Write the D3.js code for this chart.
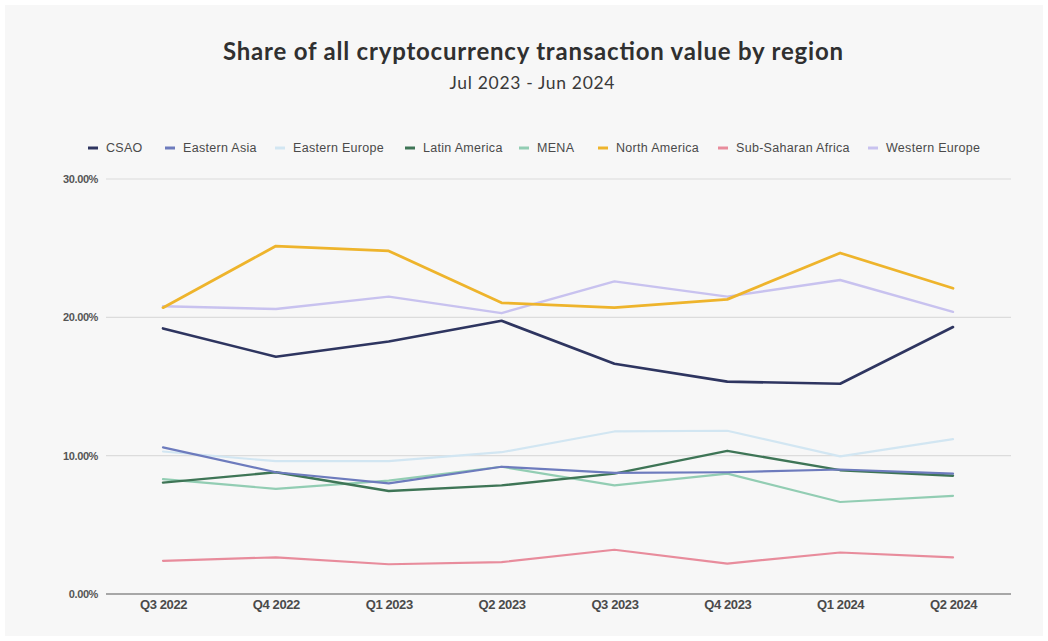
<!DOCTYPE html>
<html>
<head>
<meta charset="utf-8">
<script src="https://cdn.jsdelivr.net/npm/d3@7"></script>
<style>
  html, body { margin: 0; padding: 0; background: #ffffff; }
  svg { display: block; }
</style>
</head>
<body>
<svg id="chart" width="1048" height="641"></svg>
<script>
// Quarters on the x axis
const quarters = ["Q3 2022", "Q4 2022", "Q1 2023", "Q2 2023", "Q3 2023", "Q4 2023", "Q1 2024", "Q2 2024"];

// Share of transaction value per region, in percent
const regions = ["CSAO", "Eastern Asia", "Eastern Europe", "Latin America", "MENA", "North America", "Sub-Saharan Africa", "Western Europe"];
const csao            = [19.2, 17.15, 18.25, 19.75, 16.65, 15.35, 15.2, 19.3];
const easternAsia     = [10.6, 8.8, 8.0, 9.2, 8.75, 8.8, 9.0, 8.7];
const easternEurope   = [10.3, 9.6, 9.6, 10.25, 11.75, 11.8, 9.95, 11.2];
const latinAmerica    = [8.05, 8.8, 7.45, 7.85, 8.7, 10.35, 8.95, 8.55];
const mena            = [8.3, 7.6, 8.2, 9.2, 7.85, 8.7, 6.65, 7.1];
const northAmerica    = [20.7, 25.15, 24.8, 21.05, 20.7, 21.3, 24.65, 22.1];
const subSaharan      = [2.4, 2.65, 2.15, 2.3, 3.2, 2.2, 3.0, 2.65];
const westernEurope   = [20.8, 20.6, 21.5, 20.3, 22.6, 21.5, 22.7, 20.4];

// Y axis ticks
const yTicks = [0, 10, 20, 30];

const seriesValues = [csao, easternAsia, easternEurope, latinAmerica, mena, northAmerica, subSaharan, westernEurope];
const colors = ["#2e3560", "#6d7bbd", "#d2e6f2", "#3e7556", "#92cdb3", "#eeb42c", "#e88c9c", "#c8c2ef"];
const widths = [2.6, 2.2, 2.2, 2.4, 2.2, 2.8, 2.2, 2.4];

const svg = d3.select("#chart");
const W = 1048, H = 641;

// card background
svg.append("rect").attr("x", 0).attr("y", 0).attr("width", W).attr("height", H).attr("fill", "#ffffff");
svg.append("rect").attr("x", 5).attr("y", 5).attr("width", W - 10).attr("height", H - 10).attr("fill", "#f7f7f7");

// titles
svg.append("text")
  .attr("x", 533).attr("y", 60)
  .attr("text-anchor", "middle")
  .attr("font-family", "Lato, 'Noto Sans', sans-serif")
  .attr("font-weight", 700)
  .attr("font-size", 24)
  .attr("fill", "#303030")
  .attr("textLength", 620)
  .attr("lengthAdjust", "spacing")
  .text("Share of all cryptocurrency transaction value by region");

svg.append("text")
  .attr("x", 532).attr("y", 89)
  .attr("text-anchor", "middle")
  .attr("font-family", "Lato, 'Noto Sans', sans-serif")
  .attr("font-size", 17.5)
  .attr("fill", "#3a3a3a")
  .attr("textLength", 165)
  .attr("lengthAdjust", "spacing")
  .text("Jul 2023 - Jun 2024");

// scales
const x = d3.scalePoint().domain(quarters).range([163, 953]);
const y = d3.scaleLinear().domain([0, 30]).range([594, 179]);
const plotLeft = 106, plotRight = 1011;

// grid lines
const grid = svg.append("g");
grid.selectAll("line")
  .data(yTicks.filter(t => t > 0))
  .join("line")
  .attr("x1", plotLeft).attr("x2", plotRight)
  .attr("y1", d => y(d)).attr("y2", d => y(d))
  .attr("stroke", "#dcdcdc").attr("stroke-width", 1.2);

// baseline
svg.append("line")
  .attr("x1", plotLeft).attr("x2", plotRight)
  .attr("y1", y(0)).attr("y2", y(0))
  .attr("stroke", "#8c8c8c").attr("stroke-width", 1.6);

// y axis labels
const yAxis = d3.axisLeft(y).tickValues(yTicks).tickSize(0).tickPadding(0)
  .tickFormat(d => d3.format(".2f")(d) + "%");
const yg = svg.append("g").attr("transform", "translate(98,0)").call(yAxis);
yg.select(".domain").remove();
yg.selectAll("text")
  .attr("font-family", "'Liberation Sans', Arial, sans-serif")
  .attr("font-size", 11)
  .attr("font-weight", 700)
  .attr("fill", "#555555")
  .attr("letter-spacing", -0.4);

// x axis labels
const xAxis = d3.axisBottom(x).tickSize(0).tickPadding(0);
const xg = svg.append("g").attr("transform", "translate(0,600)").call(xAxis);
xg.select(".domain").remove();
xg.selectAll("text")
  .attr("font-family", "'Liberation Sans Narrow', 'Liberation Sans', Arial, sans-serif")
  .attr("font-size", 13)
  .attr("font-weight", 700)
  .attr("fill", "#4a4a4a")
  .attr("letter-spacing", -0.4);

// series lines
const line = d3.line()
  .x((d, i) => x(quarters[i]))
  .y(d => y(d));

// paint order: lighter lines first, CSAO and North America on top
const order = [2, 7, 4, 6, 3, 1, 0, 5];
svg.append("g")
  .selectAll("path")
  .data(order)
  .join("path")
  .attr("d", k => line(seriesValues[k]))
  .attr("fill", "none")
  .attr("stroke", k => colors[k])
  .attr("stroke-width", k => widths[k])
  .attr("stroke-linejoin", "round")
  .attr("stroke-linecap", "round");

// legend
const legendX = [88, 165, 275, 405, 519, 598, 718, 868];
const lg = svg.append("g").attr("transform", "translate(0,148)");
regions.forEach((name, i) => {
  lg.append("line")
    .attr("x1", legendX[i]).attr("x2", legendX[i] + 10)
    .attr("y1", 0).attr("y2", 0)
    .attr("stroke", colors[i]).attr("stroke-width", 3);
  lg.append("text")
    .attr("x", legendX[i] + 18).attr("y", 4)
    .attr("font-family", "'Liberation Sans', Arial, sans-serif")
    .attr("font-size", 12.5)
    .attr("fill", "#4a4a4a")
    .attr("letter-spacing", 0.3)
    .text(name);
});
</script>
</body>
</html>
